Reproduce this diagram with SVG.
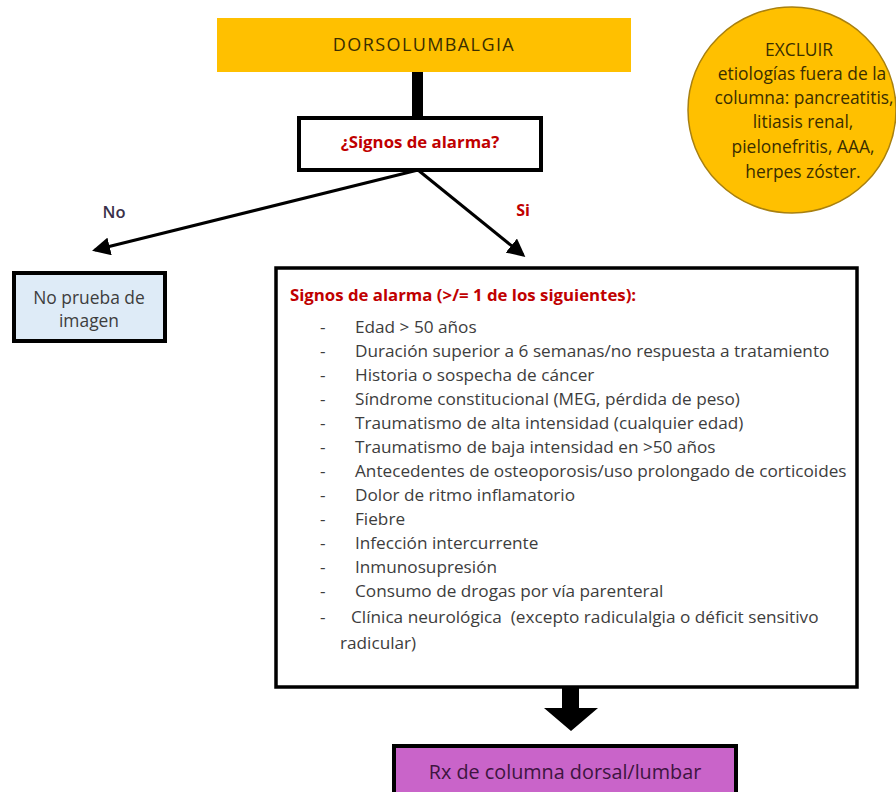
<svg xmlns="http://www.w3.org/2000/svg" width="896" height="792" viewBox="0 0 896 792">
<defs>
<marker id="ah" markerWidth="6" markerHeight="6" refX="5" refY="3" orient="auto" markerUnits="strokeWidth">
<path d="M0,0 L6,3 L0,6 z" fill="#000"/>
</marker>
<style>
text{font-family:"Open Sans",Lato,"Liberation Sans",sans-serif}
.box{stroke:#000;stroke-width:4}
.li{font-size:17.2px;fill:#3d3d3d}
.red{fill:#c00000;font-weight:bold}
.circ{font-size:17.4px;fill:#3a2e00;text-anchor:middle}
</style>
</defs>
<rect width="896" height="792" fill="#fff"/>
<g id="connectors">
<rect x="412" y="72" width="11" height="46" fill="#000"/>
<line x1="418" y1="170" x2="95" y2="250" stroke="#000" stroke-width="3" marker-end="url(#ah)"/>
<line x1="418" y1="170" x2="523" y2="255" stroke="#000" stroke-width="3" marker-end="url(#ah)"/>
<path d="M562,688 H579 V708 H598 L571,731 L544,708 H562 Z" fill="#000"/>
<text x="114" y="218" font-size="16.5" fill="#3a2f4a" font-weight="600" text-anchor="middle">No</text>
<text x="523" y="216" font-size="16" class="red" text-anchor="middle">Si</text>
</g>
<g id="dorsolumbalgia">
<rect x="217" y="18" width="414" height="54" fill="#ffc000"/>
<text x="424" y="51" font-size="18" letter-spacing="1.4" fill="#3a2e00" text-anchor="middle">DORSOLUMBALGIA</text>
</g>
<g id="excluir">
<ellipse cx="792" cy="110" rx="104" ry="103" fill="#ffc000" stroke="#a88010" stroke-width="1.5"/>
<text class="circ" x="799" y="56">EXCLUIR</text>
<text class="circ" x="802" y="80">etiologías fuera de la</text>
<text class="circ" x="804" y="104">columna: pancreatitis,</text>
<text class="circ" x="803" y="128">litiasis renal,</text>
<text class="circ" x="803" y="153">pielonefritis, AAA,</text>
<text class="circ" x="803" y="178">herpes zóster.</text>
</g>
<g id="pregunta">
<rect class="box" x="299" y="118" width="242" height="52" fill="#fff"/>
<text x="420" y="148" font-size="16.8" class="red" text-anchor="middle">¿Signos de alarma?</text>
</g>
<g id="no-prueba">
<rect class="box" x="14" y="273" width="151" height="68" fill="#deebf7"/>
<text x="89" y="304" font-size="17.4" fill="#3d3d3d" text-anchor="middle">No prueba de</text>
<text x="89" y="327" font-size="17.4" fill="#3d3d3d" text-anchor="middle">imagen</text>
</g>
<g id="signos-lista">
<rect x="276" y="268" width="581" height="419" fill="#fff" stroke="#000" stroke-width="3.5"/>
<text x="290" y="301" font-size="16.8" class="red">Signos de alarma (&gt;/= 1 de los siguientes):</text>
<g class="li">
<text x="320" y="333">-</text><text x="355" y="333">Edad &gt; 50 años</text>
<text x="320" y="357">-</text><text x="355" y="357">Duración superior a 6 semanas/no respuesta a tratamiento</text>
<text x="320" y="381">-</text><text x="355" y="381">Historia o sospecha de cáncer</text>
<text x="320" y="405">-</text><text x="355" y="405">Síndrome constitucional (MEG, pérdida de peso)</text>
<text x="320" y="429">-</text><text x="355" y="429">Traumatismo de alta intensidad (cualquier edad)</text>
<text x="320" y="453">-</text><text x="355" y="453">Traumatismo de baja intensidad en &gt;50 años</text>
<text x="320" y="477">-</text><text x="355" y="477">Antecedentes de osteoporosis/uso prolongado de corticoides</text>
<text x="320" y="501">-</text><text x="355" y="501">Dolor de ritmo inflamatorio</text>
<text x="320" y="525">-</text><text x="355" y="525">Fiebre</text>
<text x="320" y="549">-</text><text x="355" y="549">Infección intercurrente</text>
<text x="320" y="573">-</text><text x="355" y="573">Inmunosupresión</text>
<text x="320" y="597">-</text><text x="355" y="597">Consumo de drogas por vía parenteral</text>
<text x="320" y="623">-</text><text x="351" y="623" style="white-space:pre">Clínica neurológica  (excepto radiculalgia o déficit sensitivo</text>
<text x="340" y="649">radicular)</text>
</g>
</g>
<g id="rx">
<rect class="box" x="394" y="746" width="342" height="60" fill="#c964c9"/>
<text x="565" y="779" font-size="19.8" fill="#3d1540" text-anchor="middle">Rx de columna dorsal/lumbar</text>
</g>
</svg>
